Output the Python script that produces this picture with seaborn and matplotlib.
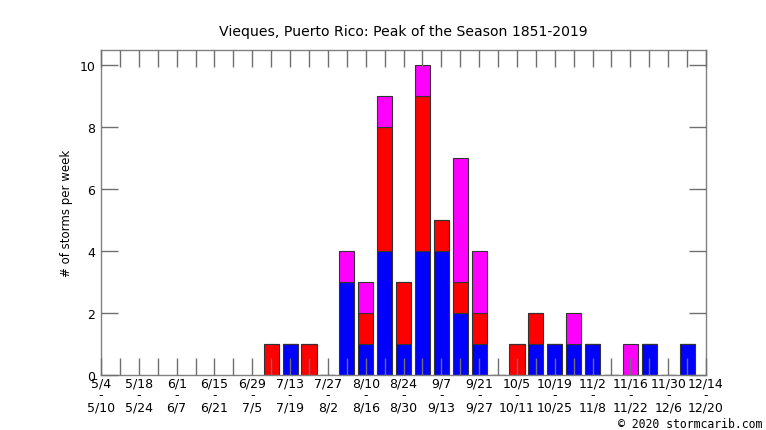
import numpy as np
import pandas as pd
import matplotlib
matplotlib.use("Agg")
import matplotlib.pyplot as plt
import seaborn as sns

# week index 0 = 5/4-5/10 ... 32 = 12/14-12/20
weeks = list(range(33))
week_start = ["5/4", "5/11", "5/18", "5/25", "6/1", "6/8", "6/15", "6/22", "6/29",
              "7/6", "7/13", "7/20", "7/27", "8/3", "8/10", "8/17", "8/24", "8/31",
              "9/7", "9/14", "9/21", "9/28", "10/5", "10/12", "10/19", "10/26",
              "11/2", "11/9", "11/16", "11/23", "11/30", "12/7", "12/14"]
week_end = ["5/10", "5/17", "5/24", "5/31", "6/7", "6/14", "6/21", "6/28", "7/5",
            "7/12", "7/19", "7/26", "8/2", "8/9", "8/16", "8/23", "8/30", "9/6",
            "9/13", "9/20", "9/27", "10/4", "10/11", "10/18", "10/25", "11/1",
            "11/8", "11/15", "11/22", "11/29", "12/6", "12/13", "12/20"]

tropical_storms = [0, 0, 0, 0, 0, 0, 0, 0, 0, 0, 1, 0, 0, 3, 1, 4, 1, 4, 4, 2, 1,
                   0, 0, 1, 1, 1, 1, 0, 0, 1, 0, 1, 0]
hurricanes = [0, 0, 0, 0, 0, 0, 0, 0, 0, 1, 0, 1, 0, 0, 1, 4, 2, 5, 1, 1, 1,
              0, 1, 1, 0, 0, 0, 0, 0, 0, 0, 0, 0]
major_hurricanes = [0, 0, 0, 0, 0, 0, 0, 0, 0, 0, 0, 0, 0, 1, 1, 1, 0, 1, 0, 4, 2,
                    0, 0, 0, 0, 1, 0, 0, 1, 0, 0, 0, 0]

cats = ["tropical storm", "hurricane", "major hurricane"]
colors = {"tropical storm": "#0000ff", "hurricane": "#ff0000", "major hurricane": "#ff00ff"}

rows = []
for cat, vals in zip(cats, [tropical_storms, hurricanes, major_hurricanes]):
    for w, v in zip(weeks, vals):
        if v > 0:
            rows.append({"week": w, "type": cat, "n": v})
df = pd.DataFrame(rows)

sns.set_style("white")
plt.rcParams["font.family"] = ["DejaVu Sans"]
plt.rcParams["text.color"] = "black"
plt.rcParams["axes.labelcolor"] = "black"
plt.rcParams["xtick.labelcolor"] = "black"
plt.rcParams["ytick.labelcolor"] = "black"

fig = plt.figure(figsize=(7.66, 4.31), dpi=100)
ax = fig.add_axes([0.1319, 0.1276, 0.7898, 0.7541])

# stacked weekly counts, tropical storms at the bottom
sns.histplot(data=df, x="week", weights="n", hue="type", hue_order=cats[::-1],
             multiple="stack", discrete=True, shrink=0.8, palette=colors,
             edgecolor="#333333", linewidth=0.8, alpha=1, legend=False, ax=ax)

ax.set_xlim(0, 32)
ax.set_ylim(0, 10.5)
ax.set_axisbelow(False)

xlabels = [f"{s}\n-\n{e}" if i % 2 == 0 else "" for i, (s, e) in enumerate(zip(week_start, week_end))]
ax.set_xticks(weeks)
ax.set_xticklabels(xlabels, linespacing=0.9)
ax.set_yticks([0, 2, 4, 6, 8, 10])

ax.tick_params(axis="x", direction="in", length=12.5, width=1, color="#707070",
               top=True, bottom=True, labelsize=9, pad=1)
ax.tick_params(axis="y", direction="in", length=12.5, width=1, color="#707070",
               left=True, right=True, labelsize=9, pad=4)
for s in ax.spines.values():
    s.set_color("#808080")
    s.set_linewidth(1)

ax.set_xlabel("")
ax.set_ylabel("# of storms per week", fontsize=8.5, labelpad=5)
ax.set_title("Vieques, Puerto Rico: Peak of the Season 1851-2019", fontsize=10.1, pad=11)

fig.text(0.995, 0.016, "\u00a9 2020 stormcarib.com", ha="right", va="center",
         family="DejaVu Sans Mono", fontsize=8.3)

fig.savefig("out.png", dpi=100)
